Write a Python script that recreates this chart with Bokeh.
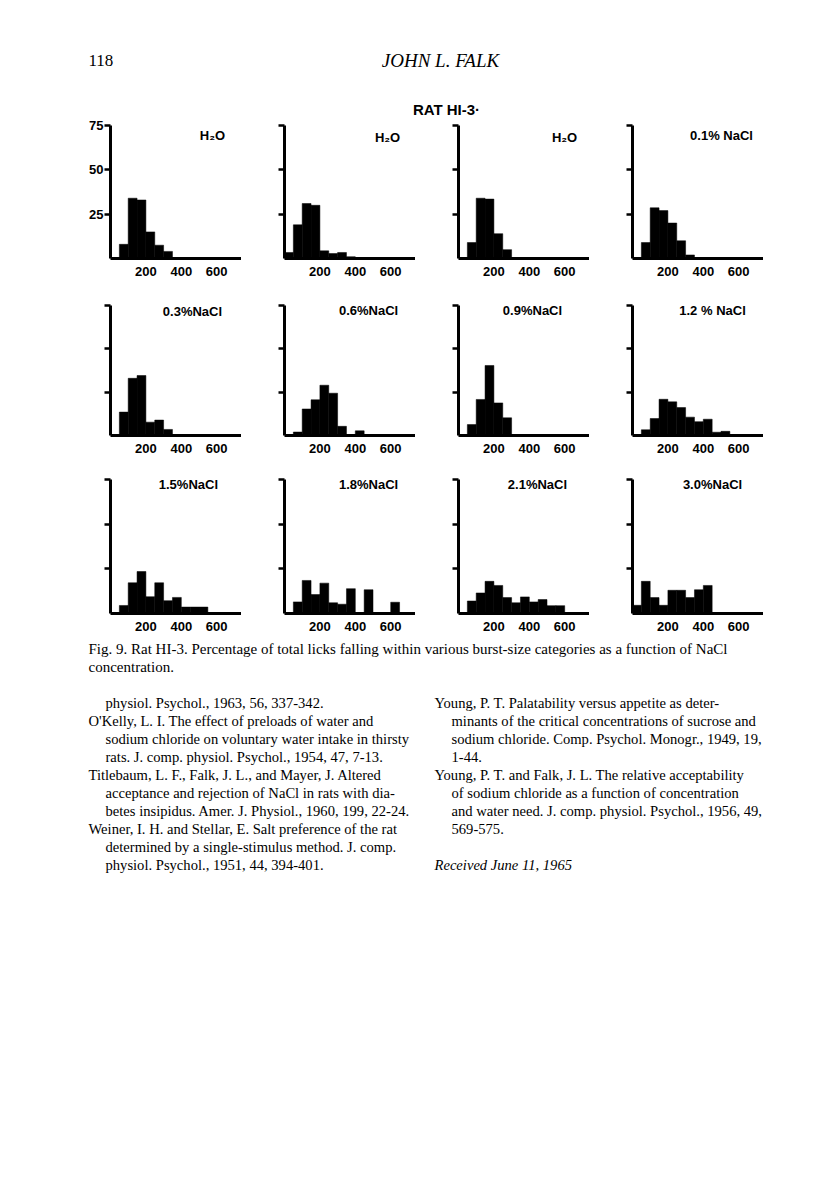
from math import pi
from bokeh.plotting import figure
from bokeh.layouts import column, row
from bokeh.models import Label, Range1d, FixedTicker, ColumnDataSource
from bokeh.core.properties import value
from bokeh.embed import file_html
from bokeh.resources import INLINE

# ---------------- data ----------------
BIN_LEFT = [0, 50, 100, 150, 200, 250, 300, 350, 400, 450, 500, 550, 600, 650]
BIN_WIDTH = 50
X_TICKS = [200, 400, 600]
Y_TICKS = [25, 50, 75]

TITLES = ["H₂O", "H₂O", "H₂O", "0.1% NaCl",
          "0.3%NaCl", "0.6%NaCl", "0.9%NaCl", "1.2 % NaCl",
          "1.5%NaCl", "1.8%NaCl", "2.1%NaCl", "3.0%NaCl"]

H2O_A  = [0, 8, 34, 33, 15, 7.5, 4, 0, 0, 0, 0, 0, 0, 0]
H2O_B  = [3.4, 19, 31, 30, 4.3, 2.8, 3.4, 1, 0, 0, 0, 0, 0, 0]
H2O_C  = [0, 9, 34, 33.5, 14, 5, 0, 0, 0, 0, 0, 0, 0, 0]
NACL_01 = [0, 9, 28.6, 27, 20, 10, 2, 0, 0, 0, 0, 0, 0, 0]
NACL_03 = [0, 13.5, 33, 34.6, 7.7, 8.9, 3.5, 0, 0, 0, 0, 0, 0, 0]
NACL_06 = [0, 2, 15.3, 20.6, 29, 24.4, 5.3, 0.5, 2.7, 0, 0, 0, 0, 0]
NACL_09 = [0, 6.3, 20.8, 40.4, 18.8, 10.2, 0, 0, 0, 0, 0, 0, 0, 0]
NACL_12 = [0, 3.3, 9.8, 20.9, 19.4, 16.1, 10.6, 8, 9.4, 1.9, 2.4, 0, 0, 0]
NACL_15 = [0, 4.5, 17.2, 23.5, 9.4, 17.2, 7.2, 9, 3.6, 3.6, 3.6, 0, 0, 0]
NACL_18 = [0, 6.5, 18.5, 10.6, 17, 6, 5.2, 13.9, 0, 13.3, 0, 0, 6.3, 0]
NACL_21 = [0, 7, 11.5, 18, 15.7, 8.9, 6, 9.3, 6.5, 7.8, 4.4, 4.4, 0, 0]
NACL_30 = [4.6, 18, 8.9, 4.6, 13, 13, 8.9, 13.3, 15.7, 0, 0, 0, 0, 0]

SERIES = [H2O_A, H2O_B, H2O_C, NACL_01, NACL_03, NACL_06, NACL_09, NACL_12,
          NACL_15, NACL_18, NACL_21, NACL_30]

# ---------------- layout (not data) ----------------
TITLE_X = [576, 582, 599, 503, 463, 475, 418, 452, 440, 475, 446, 452]
TITLE_Y = [69.5, 68, 68, 69.5, 71.5, 72, 72, 72, 72, 72, 72, 72]
FRAME_W = 131
X_MAX = 740
HEADER_H = 119
ROW_T = [6, 1, 12]
ROW_H = [133, 130, 134]
ROW_B = [46, 32, 22]

SANS = "Liberation Sans"
SERIF = "Liberation Serif"


def clean(p):
    p.outline_line_color = None
    p.grid.visible = False
    p.background_fill_color = "white"
    p.border_fill_color = "white"


def lab(**kw):
    base = dict(text_align="center", text_baseline="middle",
                text_font=SANS, text_font_style="bold",
                text_font_size="13px", text_color="black")
    base.update(kw)
    return Label(**base)


def make_panel(i):
    r, c = divmod(i, 4)
    L = 110 if c == 0 else 43
    p = figure(width=L + FRAME_W, height=ROW_T[r] + ROW_H[r] + ROW_B[r],
               x_range=Range1d(0, X_MAX), y_range=Range1d(0, 75),
               output_backend="svg", toolbar_location=None,
               min_border_left=L, min_border_right=0,
               min_border_top=ROW_T[r], min_border_bottom=ROW_B[r])
    clean(p)
    vals = SERIES[i]
    src = ColumnDataSource(dict(left=BIN_LEFT,
                                right=[b + BIN_WIDTH for b in BIN_LEFT],
                                top=vals))
    p.quad(left="left", right="right", bottom=0, top="top", source=src,
           fill_color="black", line_color="black", line_width=0.5)

    xa = p.xaxis[0]
    xa.ticker = FixedTicker(ticks=X_TICKS)
    xa.axis_line_width = 3
    xa.axis_line_color = "black"
    xa.major_tick_line_color = None
    xa.minor_tick_line_color = None
    xa.major_tick_out = 0
    xa.major_tick_in = 0
    xa.major_label_standoff = 8
    xa.major_label_text_font = SANS
    xa.major_label_text_font_style = "bold"
    xa.major_label_text_font_size = "13px"
    xa.major_label_text_color = "black"

    ya = p.yaxis[0]
    ya.ticker = FixedTicker(ticks=Y_TICKS)
    ya.axis_line_width = 3
    ya.axis_line_color = "black"
    ya.major_tick_line_width = 2.5
    ya.major_tick_out = 6
    ya.major_tick_in = 0
    ya.minor_tick_line_color = None
    ya.major_label_standoff = 1
    ya.major_label_text_font = SANS
    ya.major_label_text_font_style = "bold"
    ya.major_label_text_font_size = "13px"
    ya.major_label_text_color = "black"
    if i != 0:
        ya.major_label_overrides = {t: "" for t in Y_TICKS}

    p.add_layout(lab(x=TITLE_X[i], y=TITLE_Y[i], text=TITLES[i]))
    if i == 0:
        p.add_layout(lab(x=-140, y=29, text="% TOTAL LICKS", angle=pi / 2))
        p.add_layout(lab(x=311, y=-13.8, text="BURST SIZE"))
        p.add_layout(lab(x=424, y=-19.3, text="(LICKS)", text_font_size="12px"))
    return p


# header
header = figure(width=810, height=HEADER_H, x_range=Range1d(0, 810),
                y_range=Range1d(HEADER_H, 0), output_backend="svg",
                toolbar_location=None, min_border=0)
clean(header)
header.axis.visible = False
header.text(x=[88], y=[60], text=["118"], text_font=value(SERIF),
            text_font_size=value("17px"), text_align="left",
            text_baseline="middle", text_color="black")
header.text(x=[440], y=[60], text=["JOHN L. FALK"], text_font=value(SERIF),
            text_font_style="italic", text_font_size=value("19px"),
            text_align="center", text_baseline="middle", text_color="black")
header.text(x=[446], y=[109], text=["RAT HI-3·"], text_font=value(SANS),
            text_font_style="bold", text_font_size=value("15px"),
            text_align="center", text_baseline="middle", text_color="black")

panels = [make_panel(i) for i in range(12)]
rows = [row(panels[4 * k:4 * k + 4]) for k in range(3)]

# body text
TEXT_TOP = HEADER_H + sum(ROW_T) + sum(ROW_H) + sum(ROW_B)
TH = 1200 - TEXT_TOP
body = figure(width=810, height=TH, x_range=Range1d(0, 810),
              y_range=Range1d(TH, 0), output_backend="svg",
              toolbar_location=None, min_border=0)
clean(body)
body.axis.visible = False

caption = [
    (88, 648, "Fig. 9. Rat HI-3. Percentage of total licks falling within various burst-size categories as a function of NaCl"),
    (88, 666, "concentration."),
]
refs = [
    (105, 702, "physiol. Psychol., 1963, 56, 337-342."),
    (88, 720, "O'Kelly, L. I. The effect of preloads of water and"),
    (105, 738, "sodium chloride on voluntary water intake in thirsty"),
    (105, 756, "rats. J. comp. physiol. Psychol., 1954, 47, 7-13."),
    (88, 774, "Titlebaum, L. F., Falk, J. L., and Mayer, J. Altered"),
    (105, 792, "acceptance and rejection of NaCl in rats with dia-"),
    (105, 810, "betes insipidus. Amer. J. Physiol., 1960, 199, 22-24."),
    (88, 828, "Weiner, I. H. and Stellar, E. Salt preference of the rat"),
    (105, 846, "determined by a single-stimulus method. J. comp."),
    (105, 864, "physiol. Psychol., 1951, 44, 394-401."),
    (434, 702, "Young, P. T. Palatability versus appetite as deter-"),
    (451, 720, "minants of the critical concentrations of sucrose and"),
    (451, 738, "sodium chloride. Comp. Psychol. Monogr., 1949, 19,"),
    (451, 756, "1-44."),
    (434, 774, "Young, P. T. and Falk, J. L. The relative acceptability"),
    (451, 792, "of sodium chloride as a function of concentration"),
    (451, 810, "and water need. J. comp. physiol. Psychol., 1956, 49,"),
    (451, 828, "569-575."),
]

body.text(x=[a for a, b, t in caption], y=[b - TEXT_TOP for a, b, t in caption],
          text=[t for a, b, t in caption], text_font=value(SERIF),
          text_font_size=value("15px"), text_align="left",
          text_baseline="middle", text_color="black")
body.text(x=[a for a, b, t in refs], y=[b - TEXT_TOP for a, b, t in refs],
          text=[t for a, b, t in refs], text_font=value(SERIF),
          text_font_size=value("14.6px"), text_align="left",
          text_baseline="middle", text_color="black")
body.text(x=[434], y=[864 - TEXT_TOP], text=["Received June 11, 1965"],
          text_font=value(SERIF), text_font_style="italic",
          text_font_size=value("14.6px"), text_align="left",
          text_baseline="middle", text_color="black")

page = column(header, *rows, body)
open("out.html", "w").write(file_html(page, INLINE))
